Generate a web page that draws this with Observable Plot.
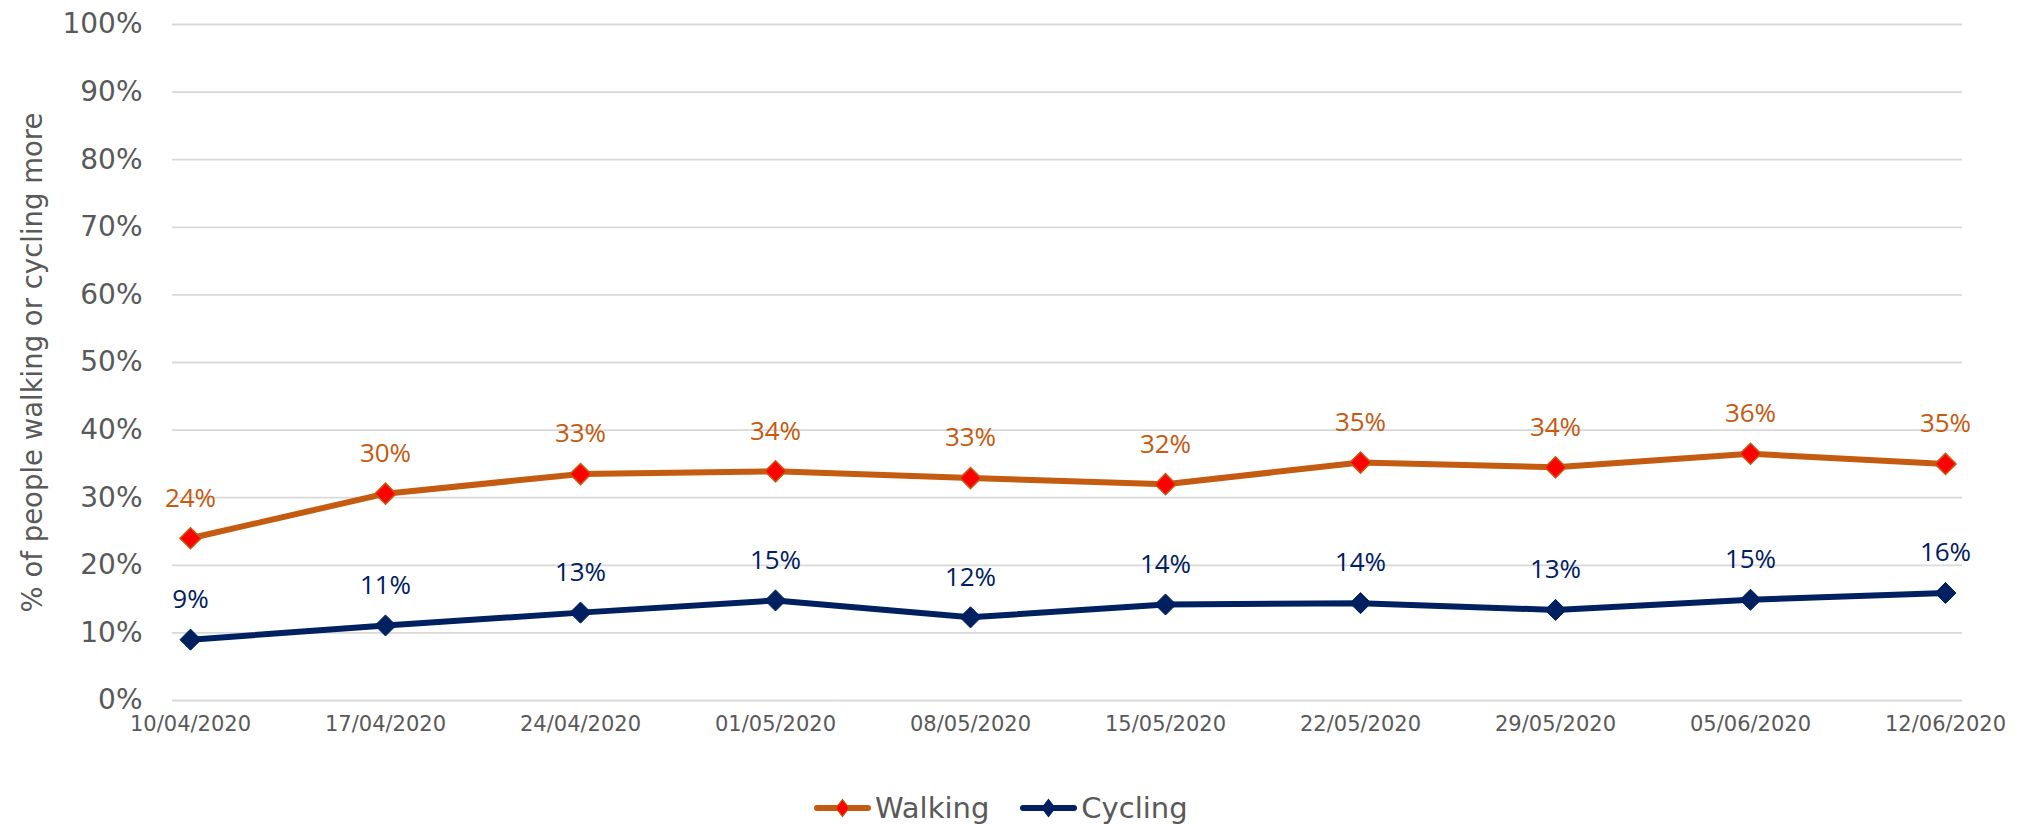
<!DOCTYPE html>
<html>
<head>
<meta charset="utf-8">
<script src="https://cdn.jsdelivr.net/npm/d3@7"></script>
<script src="https://cdn.jsdelivr.net/npm/@observablehq/plot@0.6"></script>
<style>
  html, body { margin: 0; padding: 0; background: #fff; overflow: hidden; }
  #wrap { position: relative; width: 2028px; height: 825px; overflow: hidden; }
  #legend { position: absolute; left: 814px; top: 788px; height: 40px; display: flex; align-items: center;
            font-family: "DejaVu Sans", sans-serif; font-size: 29px; line-height: 29px; color: #595959; white-space: nowrap; }
  .item { display: flex; align-items: center; margin-right: 31px; }
  .item svg { margin-right: 4px; }
</style>
</head>
<body>
<div id="wrap">
  <div id="chart"></div>
  <div id="legend"></div>
</div>
<script>
const dates = ["10/04/2020","17/04/2020","24/04/2020","01/05/2020","08/05/2020","15/05/2020","22/05/2020","29/05/2020","05/06/2020","12/06/2020"];
const walking = [0.240, 0.306, 0.335, 0.339, 0.329, 0.320, 0.352, 0.345, 0.365, 0.350];
const walkingLabels = ["24%","30%","33%","34%","33%","32%","35%","34%","36%","35%"];
const cycling = [0.090, 0.111, 0.130, 0.148, 0.123, 0.142, 0.144, 0.134, 0.149, 0.159];
const cyclingLabels = ["9%","11%","13%","15%","12%","14%","14%","13%","15%","16%"];
const yTicks = [0, 0.1, 0.2, 0.3, 0.4, 0.5, 0.6, 0.7, 0.8, 0.9, 1.0];
const yTitle = "% of people walking or cycling more";
const seriesNames = ["Walking", "Cycling"];

const orange = "#C55A11", red = "#FF0000", navy = "#002060", gray = "#595959";
const axisFont = "'DejaVu Sans', sans-serif";

const wData = dates.map((d, i) => ({date: d, value: walking[i], label: walkingLabels[i]}));
const cData = dates.map((d, i) => ({date: d, value: cycling[i], label: cyclingLabels[i]}));

const plot = Plot.plot({
  width: 2028,
  height: 775,
  marginLeft: 172,
  marginRight: 66,
  marginTop: 24,
  marginBottom: 75,
  style: {fontFamily: axisFont, color: gray, background: "#fff"},
  x: {type: "point", domain: dates, padding: 0.07},
  y: {domain: [0, 1]},
  marks: [
    Plot.gridY(yTicks, {stroke: "#D9D9D9", strokeOpacity: 1, strokeWidth: 1.8}),
    Plot.axisY(yTicks, {tickSize: 0, tickPadding: 30, fontSize: 28, fill: gray, tickFormat: d => Math.round(d * 100) + "%", label: null}),
    Plot.axisX({tickSize: 0, tickPadding: 16, fontSize: 21, fill: gray, label: null}),
    Plot.text([yTitle], {frameAnchor: "left", textAnchor: "middle", rotate: -90, dx: -139, fontSize: 27.5, fill: gray}),
    Plot.line(wData, {x: "date", y: "value", stroke: orange, strokeWidth: 6}),
    Plot.line(cData, {x: "date", y: "value", stroke: navy, strokeWidth: 6}),
    Plot.dot(wData, {x: "date", y: "value", symbol: "diamond2", r: 9.5, fill: red, stroke: orange, strokeWidth: 1.5}),
    Plot.dot(cData, {x: "date", y: "value", symbol: "diamond2", r: 9.5, fill: navy, stroke: navy, strokeWidth: 1}),
    Plot.text(wData, {x: "date", y: "value", text: "label", dy: -40, fontSize: 26, fill: orange, fontFamily: "'Open Sans', sans-serif"}),
    Plot.text(cData, {x: "date", y: "value", text: "label", dy: -40, fontSize: 26, fill: navy, fontFamily: "'Open Sans', sans-serif"})
  ]
});
document.getElementById("chart").appendChild(plot);

const legend = document.getElementById("legend");
[[seriesNames[0], orange, red], [seriesNames[1], navy, navy]].forEach(([name, line, fill]) => {
  const item = document.createElement("div");
  item.className = "item";
  item.innerHTML = `<svg width="57" height="24" viewBox="0 0 57 24">
      <line x1="3" y1="12" x2="54" y2="12" stroke="${line}" stroke-width="6" stroke-linecap="round"/>
      <path d="M28.5 3.5 L35 12 L28.5 20.5 L22 12 Z" fill="${fill}" stroke="${line}" stroke-width="1.2"/>
    </svg><span>${name}</span>`;
  legend.appendChild(item);
});
</script>
</body>
</html>
